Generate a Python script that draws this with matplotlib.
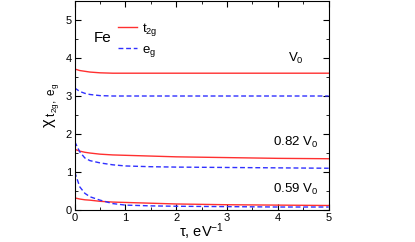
import matplotlib
matplotlib.use("Agg")
import matplotlib.pyplot as plt
from matplotlib.ticker import MultipleLocator

plt.rcParams['font.family'] = ['Liberation Sans', 'DejaVu Sans']
plt.rcParams['mathtext.fontset'] = 'custom'
plt.rcParams['mathtext.rm'] = 'Liberation Sans'
plt.rcParams['mathtext.it'] = 'Liberation Sans'

# tau grid (eV^-1) and susceptibilities
tau = [0, 0.1, 0.2, 0.3, 0.5, 0.75, 1, 1.5, 2, 3, 4, 5]

v0_t2g = [3.71, 3.67, 3.65, 3.63, 3.61, 3.60, 3.60, 3.60, 3.60, 3.60, 3.60, 3.60]
v0_eg = [3.21, 3.12, 3.07, 3.04, 3.01, 3.00, 3.00, 3.00, 3.00, 3.00, 3.00, 3.00]

v82_t2g = [1.60, 1.55, 1.52, 1.50, 1.47, 1.45, 1.44, 1.42, 1.40, 1.38, 1.36, 1.35]
v82_eg = [1.80, 1.53, 1.37, 1.30, 1.24, 1.19, 1.16, 1.14, 1.13, 1.12, 1.11, 1.10]

v59_t2g = [0.32, 0.29, 0.27, 0.26, 0.23, 0.21, 0.20, 0.18, 0.16, 0.14, 0.13, 0.12]
v59_eg = [1.00, 0.61, 0.44, 0.35, 0.26, 0.17, 0.13, 0.11, 0.10, 0.09, 0.08, 0.08]

labels = ['V$_0$', '0.82 V$_0$', '0.59 V$_0$']
label_y = [4.0, 1.79, 0.53]

red = '#ff3030'
blue = '#3030ff'

fig = plt.figure(figsize=(4.15, 2.42), dpi=100)
ax = fig.add_axes([0.18, 0.132, 0.612, 0.864])

first = True
for t2g, eg in [(v0_t2g, v0_eg), (v82_t2g, v82_eg), (v59_t2g, v59_eg)]:
    ax.plot(tau, t2g, color=red, lw=1.0, label='t$_{2g}$' if first else None)
    ax.plot(tau, eg, color=blue, lw=1.0, ls=(0, (3.5, 2)), label='e$_g$' if first else None)
    first = False

for lab, y in zip(labels, label_y):
    ax.text(4.35, y, lab, ha='center', va='center', fontsize=9.5)

ax.text(0.55, 4.53, 'Fe', ha='center', va='center', fontsize=11)
ax.legend(loc='upper left', bbox_to_anchor=(0.125, 0.96), frameon=False,
          fontsize=9.5, handlelength=1.4, handletextpad=0.4, labelspacing=0.4)

ax.set_xlim(0, 5)
ax.set_ylim(0, 5.5)
ax.xaxis.set_major_locator(MultipleLocator(1))
ax.xaxis.set_minor_locator(MultipleLocator(0.5))
ax.yaxis.set_major_locator(MultipleLocator(1))
ax.yaxis.set_minor_locator(MultipleLocator(0.5))
ax.tick_params(which='both', direction='in', top=True, right=True, labelsize=8, pad=2)
ax.tick_params(which='major', length=4)
ax.tick_params(which='minor', length=2.5)

ax.set_xlabel(r'$\tau$, eV$^{-1}$', fontsize=10.5, labelpad=-1)
ax.set_ylabel(r'$\chi_{\ t_{2g},\ e_g}$', fontsize=12, labelpad=2)

fig.savefig('out.png', dpi=100)
